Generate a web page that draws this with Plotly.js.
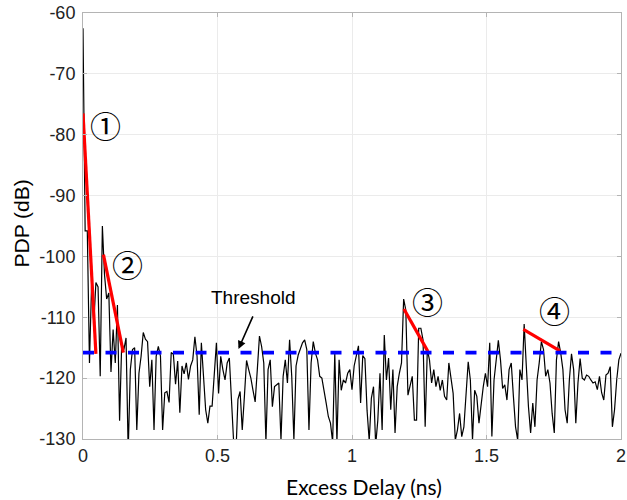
<!DOCTYPE html>
<html>
<head>
<meta charset="utf-8">
<script src="https://cdn.plot.ly/plotly-3.0.1.min.js"></script>
<style>html,body{margin:0;padding:0;background:#fff;}#chart{width:627px;height:500px;}</style>
</head>
<body>
<div id="chart"></div>
<script>
// Sampling of the PDP trace (ns)
const delayStart = 0;
const delayStep = 0.008;

// PDP values (dB)
const pdp = [
  -62.5, -95.8, -95.8, -117.5, -104.5, -111, -104.3, -105, -119.7, -95.0,
  -103, -107, -106, -119, -112, -117.5, -108, -127, -114.2, -115.3,
  -113.4, -132, -118.6, -115.3, -115, -128.5, -119.2, -116.4, -112.5, -113.6,
  -114, -121.4, -117, -128.5, -116.4, -114.8, -116.4, -128.5, -122.4, -122.2,
  -124, -115.8, -116.1, -121, -117.2, -125.7, -118, -119.3, -117.5, -120.2,
  -118, -117, -113.2, -116.4, -126, -114.2, -119.7, -125.2, -127.4, -124.6,
  -124.6, -119.7, -114.2, -122.5, -116.4, -118.6, -120.3, -117.5, -116.7, -123.6,
  -130.5, -133, -123.5, -122.2, -128.5, -123, -117.1, -118.6, -120, -122,
  -123.9, -118.6, -113.1, -114.8, -117.5, -130.5, -118.6, -117, -124.7, -121.4,
  -121.1, -120.8, -130.2, -119.7, -117, -120.8, -113.7, -119.7, -130.2, -118,
  -116.2, -115.3, -114.2, -113.7, -115.3, -128.5, -117.5, -114, -115.9, -117,
  -119.7, -120, -122.4, -124.1, -126.3, -127.4, -130.5, -115.9, -130.5, -117,
  -122, -120.3, -120.8, -119.2, -118.6, -121.9, -118, -116.5, -114.7, -124.1,
  -116.3, -116.8, -125.3, -130.3, -123.3, -121.4, -131, -126.9, -119.2, -128.5,
  -112.9, -120.3, -116.7, -125.2, -118.6, -129, -121.4, -119.2, -117.5, -107,
  -108.8, -122.8, -121.4, -119.7, -126.9, -126.9, -111.8, -111.8, -113.7, -128,
  -115.3, -117, -120.8, -118.6, -121.4, -119.7, -122, -120.3, -123, -123.6,
  -117.5, -120.3, -122.5, -130.2, -128.5, -125.8, -129.6, -128, -122, -117.3,
  -120.3, -130.2, -122, -123, -127.4, -124.1, -121.4, -119.2, -121.4, -114.2,
  -129.6, -120.3, -116.4, -113.8, -117, -121.7, -121.1, -123.6, -118.6, -117.5,
  -123, -128, -130.2, -118.6, -120.3, -111.1, -118, -124.7, -129, -124.1,
  -128, -120.3, -117.5, -114, -115.3, -119.7, -118.6, -120.8, -125.8, -129,
  -117, -114, -115.9, -118.6, -125.2, -127.4, -120.3, -116, -118.6, -127.4,
  -120.8, -116.8, -120, -120.3, -119.5, -119.7, -120.3, -120.8, -120.6, -121.9,
  -119.7, -122.4, -123.6, -119.5, -119.2, -118.1, -128, -125.2, -120.3, -117, -115.9
];

// Detection threshold (dB)
const thresholdDb = -115.8;
const thresholdX = [0, 2];

// Red decay-fit segments (cluster 1..4): start/end delay (ns) and PDP (dB)
const fitX = [[0.0, 0.048], [0.076, 0.150], [1.193, 1.282], [1.637, 1.773]];
const fitY = [[-76.5, -116.0], [-99.7, -115.8], [-108.65, -115.6], [-112.0, -115.5]];

// Cluster labels and their positions
const clusterLabels = ['\u2460', '\u2461', '\u2462', '\u2463'];
const labelX = [0.084, 0.166, 1.282, 1.752];
const labelY = [-78.7, -101.5, -107.7, -109.1];

// Axis ticks
const xTicks = [0, 0.5, 1, 1.5, 2];
const xTickText = ['0', '0.5', '1', '1.5', '2'];
const yTicks = [-130, -120, -110, -100, -90, -80, -70, -60];
const yTickText = ['-130', '-120', '-110', '-100', '-90', '-80', '-70', '-60'];

const traces = [];
traces.push({
  type: 'scatter', mode: 'lines',
  x0: delayStart, dx: delayStep, y: pdp,
  line: {color: '#000000', width: 1.2},
  hoverinfo: 'skip', showlegend: false
});
for (let i = 0; i < fitX.length; i++) {
  traces.push({
    type: 'scatter', mode: 'lines',
    x: fitX[i], y: fitY[i],
    line: {color: '#ff0000', width: 3.2},
    showlegend: false
  });
}
traces.push({
  type: 'scatter', mode: 'lines',
  x: thresholdX, y: [thresholdDb, thresholdDb],
  line: {color: '#0000ff', width: 3.6, dash: '11px,11.5px'},
  showlegend: false
});

const annotations = [];
for (let i = 0; i < clusterLabels.length; i++) {
  annotations.push({
    x: labelX[i], y: labelY[i], xref: 'x', yref: 'y',
    text: clusterLabels[i], showarrow: false,
    font: {family: 'DejaVu Serif, Liberation Serif, Noto Sans CJK JP, serif', size: 31, color: '#000'},
    xanchor: 'center', yanchor: 'middle'
  });
}
annotations.push({
  x: 0.634, y: -106.7, xref: 'x', yref: 'y',
  text: 'Threshold', showarrow: false,
  font: {family: 'Liberation Sans, Arial, sans-serif', size: 19, color: '#000'},
  xanchor: 'center', yanchor: 'middle'
});
annotations.push({
  x: 0.578, y: -115.2, xref: 'x', yref: 'y',
  ax: 0.634, ay: -109.6, axref: 'x', ayref: 'y',
  text: '', showarrow: true, arrowhead: 2, arrowsize: 1, arrowwidth: 1.6,
  arrowcolor: '#000', standoff: 0
});
annotations.push({
  x: 0.523, y: -0.111, xref: 'paper', yref: 'paper',
  text: 'Excess Delay (ns)', showarrow: false,
  font: {family: 'Lato, Open Sans, sans-serif', size: 21, color: '#000'},
  xanchor: 'center', yanchor: 'middle'
});
annotations.push({
  x: -0.114, y: 0.505, xref: 'paper', yref: 'paper',
  text: 'PDP (dB)', showarrow: false, textangle: -90,
  font: {family: 'Liberation Sans, Arial, sans-serif', size: 21, color: '#000'},
  xanchor: 'center', yanchor: 'middle'
});

const axisCommon = {
  showgrid: true, gridcolor: '#ebebeb', gridwidth: 1,
  showline: true, linecolor: '#b4b4b4', linewidth: 1, mirror: 'ticks',
  ticks: 'inside', ticklen: 4, tickcolor: '#b4b4b4',
  zeroline: false,
  tickfont: {family: 'Liberation Sans, Arial, sans-serif', size: 18, color: '#222'}
};

const layout = {
  width: 627, height: 500,
  margin: {l: 83, r: 6, t: 13, b: 61},
  paper_bgcolor: '#fff', plot_bgcolor: '#fff',
  showlegend: false,
  xaxis: Object.assign({}, axisCommon, {
    range: [0, 2], tickmode: 'array', tickvals: xTicks, ticktext: xTickText
  }),
  yaxis: Object.assign({}, axisCommon, {
    range: [-130, -60], tickmode: 'array', tickvals: yTicks, ticktext: yTickText,
    ticklabelstandoff: 3
  }),
  annotations: annotations
};

Plotly.newPlot('chart', traces, layout, {displayModeBar: false, staticPlot: true});
</script>
</body>
</html>
